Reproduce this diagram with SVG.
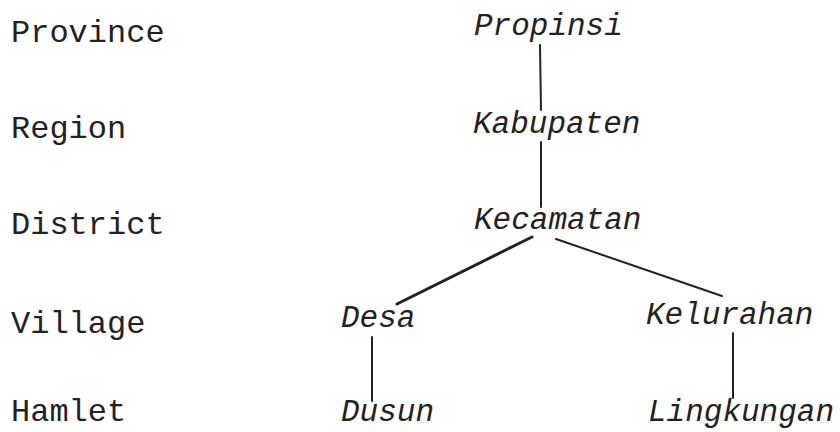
<svg xmlns="http://www.w3.org/2000/svg" width="840" height="432" viewBox="0 0 840 432">
  <style>
    .lvl { font-family: "Courier New", "Liberation Mono", monospace; font-size: 32px; fill: #222; }
    .nm { font-family: "Courier New", "Liberation Mono", monospace; font-size: 31px; font-style: italic; fill: #222; }
    .edge { stroke: #222; stroke-width: 2; fill: none; stroke-linecap: round; }
  </style>
  <rect width="840" height="432" fill="#ffffff"/>
  <g id="levels">
    <text class="lvl" x="11" y="42">Province</text>
    <text class="lvl" x="11" y="138">Region</text>
    <text class="lvl" x="11" y="234">District</text>
    <text class="lvl" x="11" y="333">Village</text>
    <text class="lvl" x="11" y="421">Hamlet</text>
  </g>
  <g id="connectors">
    <line class="edge" x1="540" y1="45" x2="541" y2="110"/>
    <line class="edge" x1="541" y1="142" x2="541" y2="207"/>
    <line class="edge" x1="532" y1="237" x2="397" y2="304" style="stroke-width:3"/>
    <line class="edge" x1="556" y1="239" x2="722" y2="296"/>
    <line class="edge" x1="372" y1="337" x2="372" y2="401"/>
    <line class="edge" x1="733" y1="333" x2="733" y2="398"/>
  </g>
  <g id="node-propinsi"><text class="nm" x="474" y="35">Propinsi</text></g>
  <g id="node-kabupaten"><text class="nm" x="473" y="133">Kabupaten</text></g>
  <g id="node-kecamatan"><text class="nm" x="474" y="229">Kecamatan</text></g>
  <g id="node-desa"><text class="nm" x="341" y="327">Desa</text></g>
  <g id="node-kelurahan"><text class="nm" x="646" y="324">Kelurahan</text></g>
  <g id="node-dusun"><text class="nm" x="341" y="421">Dusun</text></g>
  <g id="node-lingkungan"><text class="nm" x="648" y="421">Lingkungan</text></g>
</svg>
